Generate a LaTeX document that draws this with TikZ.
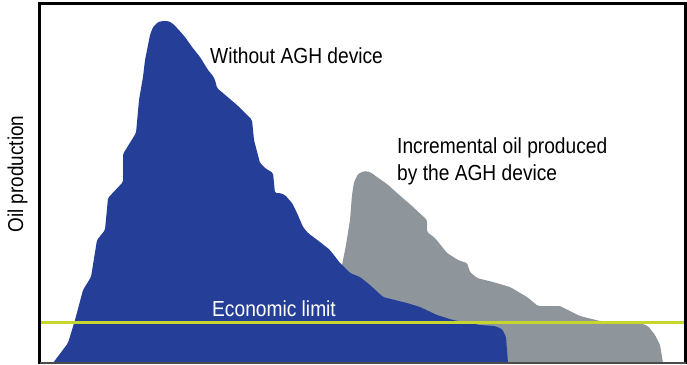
\documentclass[tikz,border=0pt]{standalone}
\usepackage{fontspec}
\setmainfont[FakeStretch=0.88]{Liberation Sans}
\definecolor{oilblue}{RGB}{37,63,153}
\definecolor{oilgray}{RGB}{142,149,155}
\definecolor{limitgreen}{RGB}{197,214,46}
\begin{document}
\begin{tikzpicture}[x=1pt,y=-1pt,
  lbl/.style={anchor=base west,inner sep=0pt,font=\fontsize{21.8}{24}\selectfont},
  frameline/.style={line width=2.2pt,black},
]
\useasboundingbox (0,0) rectangle (687,364);
% incremental production (gray)
\fill[oilgray,rounded corners=1.5pt] (342,265) -- (346,245) -- (350,220) -- (352,195) -- (354,182) -- (358,174) -- (364,171) -- (370,172) -- (377,177) -- (387,184) -- (397,193) -- (412,206) -- (427,220) -- (427,232) -- (435,238) -- (447,253) -- (458,260) -- (467,263) -- (470,272) -- (477,278) -- (493,282) -- (510,287) -- (527,297) -- (538,306) -- (560,306) -- (580,316) -- (600,321) -- (640,323) -- (648,326) -- (655,335) -- (660,345) -- (663,363) -- (342,363) -- cycle;
% production without device (blue)
\fill[oilblue,rounded corners=1.5pt] (53,363) -- (68,343) -- (75,320) -- (83,290) -- (91,277) -- (97,240) -- (105,230) -- (108,198) -- (123,182) -- (123,154) -- (136,133) -- (139,100) -- (143,77) -- (145,60) -- (150,35) -- (153,27) -- (158,22) -- (163,21) -- (168,21) -- (172,23) -- (178,29) -- (185,37) -- (192,47) -- (200,57) -- (208,70) -- (213,76) -- (215,80) -- (217,88) -- (237,105) -- (252,120) -- (254,140) -- (260,163) -- (265,168) -- (273,173) -- (275,193) -- (280,193) -- (285,195) -- (292,203) -- (297,213) -- (303,227) -- (308,233) -- (320,242) -- (330,250) -- (340,263) -- (350,273) -- (360,277) -- (370,285) -- (383,297) -- (407,303) -- (420,307) -- (437,315) -- (453,320) -- (480,325) -- (495,326) -- (502,329) -- (506,337) -- (507,350) -- (508,363) -- cycle;
% economic limit
\coordinate (gl) at (40,322.3);
\coordinate (gr) at (685,322.3);
\draw[limitgreen,line width=2.6pt] (gl) -- (gr);
% frame
\coordinate (bl) at (39.5,363);
\coordinate (tl) at (39.5,3.5);
\coordinate (tr) at (685.5,3.5);
\coordinate (br) at (685.5,363);
\draw[frameline,line cap=rect] (bl) -- (tl) -- (tr) -- (br);
\draw[line width=1.6pt,black!70] (bl) -- (br);
% labels
\node[lbl] (without) at (210,63) {Without AGH device};
\node[lbl] (incr1) at (397,153) {Incremental oil produced};
\node[lbl] (incr2) at (397,180) {by the AGH device};
\node[lbl,text=white] (econ) at (212,316) {Economic limit};
\node[font=\fontsize{21.5}{24}\selectfont,rotate=90,anchor=base,inner sep=0pt] (ylab) at (23,174) {Oil production};
\end{tikzpicture}
\end{document}
